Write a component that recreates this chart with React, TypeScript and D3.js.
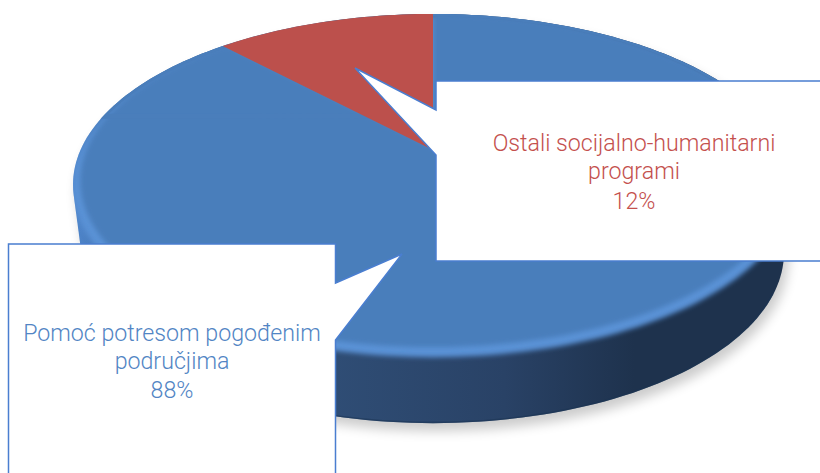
import React from "react";
import * as d3 from "d3";

const categories = ["Pomoć potresom pogođenim područjima", "Ostali socijalno-humanitarni programi"];
const values = [88, 12];
const sliceColors = ["#4a7ebb", "#bc504c"];
const labelLines = [["Pomoć potresom pogođenim", "područjima", "88%"], ["Ostali socijalno-humanitarni", "programi", "12%"]];
const textColors = ["#5285c4", "#c4504d"];

const W = 820, H = 473;
const cx = 433, apexY = 150, k = 0.2025, h = 163.6, rxp = 352.5, depth = 68;

const project = (t: number): [number, number] => {
  const X = Math.sin(t), Y = Math.cos(t), w = 1 + k * Y;
  return [cx + (rxp * X) / w, apexY - (h * Y) / w];
};
const sample = (a: number, b: number) => {
  const n = Math.max(8, Math.ceil(((b - a) / (2 * Math.PI)) * 240));
  return d3.range(n + 1).map((i) => project(a + ((b - a) * i) / n));
};
const line = d3.line();
const pie = d3.pie<number>().sort(null)(values);
const full = sample(0, 2 * Math.PI);
const rimPath = line(full) + "Z";
const slicePath = (a: number, b: number) => line([[cx, apexY], ...sample(a, b)]) + "Z";

const bx = d3.scaleLinear().domain([14, 355]).range([14, 347]);
const faceScale = (p: [number, number]): [number, number] => [cx + (p[0] - cx) * 0.98, bx(p[1])];
const toBase = ([x, y]: [number, number]): [number, number] => [cx + (x - cx) * 0.975, y + depth];

export default function App() {
  const blue = pie[0], red = pie[1];
  const bottom = full.map(toBase);
  const sideArea = d3.polygonHull([...full, ...bottom]) as [number, number][];
  const sidePath = line(sideArea) + "Z";
  const lowerEdge = line(sample((Math.PI * 115) / 180, (Math.PI * 245) / 180).map(toBase)) as string;
  const bluePath = line([[cx, apexY], ...sample(blue.startAngle, blue.endAngle)].map((p) => faceScale(p as [number, number]))) + "Z";
  const redPath = slicePath(red.startAngle, red.endAngle);
  const font = { fontFamily: "Roboto, 'Liberation Sans', sans-serif", fontWeight: 300, fontSize: 23.2, textAnchor: "middle" as const };
  return (
    <svg width={W} height={H} style={{ position: "absolute", left: 0, top: 0, background: "#fff" }}>
      <defs>
        <linearGradient id="side" gradientUnits="userSpaceOnUse" x1={73} x2={793} y1={0} y2={0}>
          <stop offset="0" stopColor="#4f86cc" />
          <stop offset="0.06" stopColor="#4272ae" />
          <stop offset="0.36" stopColor="#2f4d75" />
          <stop offset="0.6" stopColor="#294266" />
          <stop offset="0.78" stopColor="#1e324d" />
          <stop offset="1" stopColor="#1e324d" />
        </linearGradient>
        <filter id="shadow" x="-10%" y="-10%" width="120%" height="120%"><feGaussianBlur stdDeviation="6" /></filter>
        <filter id="soft" x="-5%" y="-5%" width="110%" height="110%"><feGaussianBlur stdDeviation="2.5" /></filter>
        <clipPath id="rimClip"><path d={rimPath} transform="translate(0,2)" /></clipPath>
        <clipPath id="faceClip"><path d={rimPath} /></clipPath>
        <clipPath id="hullClip"><path d={sidePath} /></clipPath>
      </defs>
      <path d={sidePath} transform="translate(4,8)" fill="#000" opacity={0.2} filter="url(#shadow)" />
      <path d={sidePath} fill="url(#side)" />
      <path d={lowerEdge} fill="none" stroke="#1c3454" strokeWidth={3} opacity={0.55} clipPath="url(#hullClip)" />
      <g clipPath="url(#hullClip)">
        <path d={rimPath} transform="translate(0,2)" fill="#5a92d6" filter="url(#soft)" />
      </g>
      <g clipPath="url(#faceClip)">
        <path d={bluePath} fill={sliceColors[0]} filter="url(#soft)" />
      </g>
      <path d={line(sample(0, blue.endAngle).filter(([, y]) => y < 120)) + ""} fill="none" stroke={sliceColors[0]} strokeWidth={5} clipPath="url(#faceClip)" />
      <path d={redPath} fill={sliceColors[1]} />

      <path d="M436,81H822V261H436V155L355,68L436,110Z" fill="#fff" stroke="#4a7ed0" strokeWidth={1.5} />
      <path d="M8.5,244H335.5V283L402,254L335.5,340V475H8.5Z" fill="#fff" stroke="#4a7ed0" strokeWidth={1.5} />

      {labelLines[1].map((t, i) => (
        <text key={t} x={634} y={[151, 179, 209][i]} fill={textColors[1]} {...font}>{t}</text>
      ))}
      {labelLines[0].map((t, i) => (
        <text key={t} x={172} y={[341, 369, 398][i]} fill={textColors[0]} {...font}>{t}</text>
      ))}
      <title>{categories.join(", ")}</title>
    </svg>
  );
}
